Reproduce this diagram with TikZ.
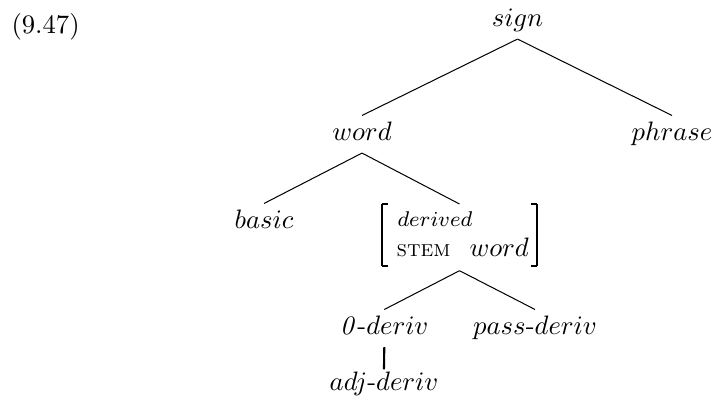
\documentclass[tikz,border=0pt]{standalone}
\usepackage{amsmath}
\begin{document}
\begin{tikzpicture}[x=0.375pt,y=-0.375pt,
  cat/.style={inner sep=2pt, text height=7pt, text depth=2.7pt, anchor=base},
  txt/.style={inner sep=0pt, anchor=base west},
  avm/.style={inner sep=0pt, outer sep=0pt, minimum width=58.1pt, minimum height=23.25pt},
  bar/.style={line width=0.75pt},
  serif/.style={line width=0.45pt},
  edge/.style={line width=0.38pt},
  thickedge/.style={line width=0.78pt}]
\useasboundingbox (0,0) rectangle (712,402);
\node[txt] (num) at (11,33) {(9.47)};
\node[cat] (sign) at (517.5,26) {$sign$};
\node[cat] (word) at (362,140) {$word$};
\node[cat] (phrase) at (672,140) {$phrase$};
\node[cat] (basic) at (264,228) {$basic$};
% AVM
\node[avm] (avm) at (459.5,235) {};
\node[txt] (der) at (397,226) {\fontsize{7.6pt}{9pt}\selectfont$derived$};
\node[txt] (stem) at (396,256.7) {\fontsize{8.6pt}{10pt}\selectfont\textsc{stem}};
\node[txt] (wd) at (469,256.7) {$word$};
\draw[bar] (avm.north west) -- (avm.south west);
\draw[serif] (avm.north west) -- ([xshift=2.2pt]avm.north west);
\draw[serif] (avm.south west) -- ([xshift=2.2pt]avm.south west);
\draw[bar] (avm.north east) -- (avm.south east);
\draw[serif] (avm.north east) -- ([xshift=-2.2pt]avm.north east);
\draw[serif] (avm.south east) -- ([xshift=-2.2pt]avm.south east);
\node[cat] (zero) at (384.3,334) {$\mathit{0}\text{-}deriv$};
\node[cat] (pass) at (535,334) {$pass\text{-}deriv$};
\node[cat] (adj) at (384,390) {$adj\text{-}deriv$};
\draw[edge] (sign.south) -- (word.north);
\draw[edge] (sign.south) -- (phrase.north);
\draw[edge] (word.south) -- (basic.north);
\draw[edge] (word.south) -- (avm.north);
\draw[edge] ([yshift=-1.76pt]avm.south) -- (zero.north);
\draw[edge] ([yshift=-1.76pt]avm.south) -- (pass.north);
\draw[thickedge, shorten >=-1.5pt] (zero.south) -- (adj.north);
\end{tikzpicture}
\end{document}
